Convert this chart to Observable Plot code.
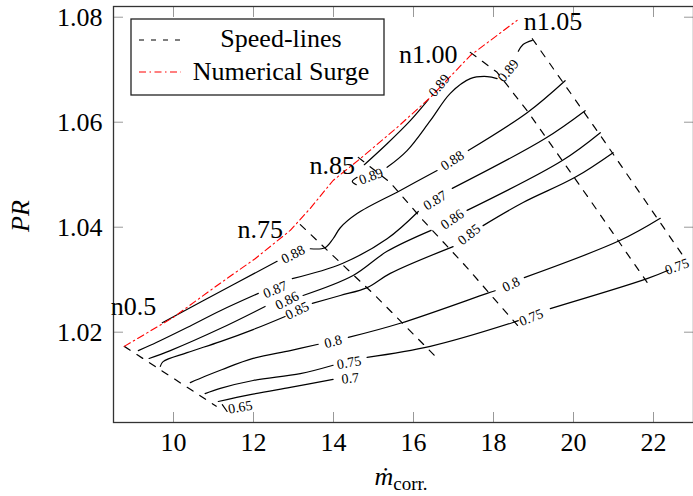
<!DOCTYPE html>
<html><head><meta charset="utf-8">
<script src="https://cdn.jsdelivr.net/npm/d3@7"></script>
<script src="https://cdn.jsdelivr.net/npm/@observablehq/plot@0.6"></script>
<style>
body{margin:0;background:#fff;}
#chart{width:693px;height:496px;}
</style></head><body><div id="chart"></div>
<script>
// ---- axis ticks ----
const xTicks = [10, 12, 14, 16, 18, 20, 22];
const yTicks = [1.02, 1.04, 1.06, 1.08];

// ---- speed lines (mass flow, pressure ratio) ----
const speedNames = ["n0.5", "n.75", "n.85", "n1.00", "n1.05"];
const speedX = [
  [8.77, 11.07],
  [13.17, 14.04, 15.04, 16.52],
  [14.62, 15.42, 16.24, 17.29, 18.67],
  [17.42, 18.09, 18.84, 20.42, 21.84],
  [18.97, 20.67, 22.77]
];
const speedPR = [
  [1.0173, 1.0059],
  [1.0405, 1.0342, 1.0270, 1.0156],
  [1.0533, 1.0485, 1.0413, 1.0327, 1.0207],
  [1.0733, 1.0695, 1.0622, 1.0451, 1.0295],
  [1.0759, 1.0575, 1.0342]
];
const speedLabelX = [9.0, 12.17, 13.97, 16.37, 19.49];
const speedLabelPR = [1.0232, 1.0380, 1.0502, 1.0712, 1.0775];

// ---- numerical surge line ----
const surgeX  = [8.77, 9.99, 11.09, 12.04, 12.92, 13.42, 13.99, 14.74, 15.59, 16.42, 17.42, 18.59];
const surgePR = [1.0173, 1.0228, 1.0289, 1.0340, 1.0394, 1.0436, 1.0489, 1.0535, 1.0590, 1.0647, 1.0727, 1.0794];

// ---- efficiency contour segments (broken at labels) ----
const contourLevel = ["0.65","0.7","0.75","0.75","0.75","0.8","0.8","0.8","0.85","0.85","0.85",
  "0.86","0.86","0.86","0.87","0.87","0.87","0.88","0.88","0.88","0.89","0.89","0.89","0.89"];
const contourX = [
  [11.22, 11.34],
  [11.12, 11.92, 12.92, 13.99],
  [10.79, 11.17, 11.99, 13.17, 13.99],
  [14.84, 16.42, 18.47, 18.62],
  [19.42, 21.84, 22.37],
  [10.42, 10.79, 11.22, 11.99, 12.92, 13.62],
  [14.37, 15.67, 17.84, 18.04],
  [18.77, 21.17, 22.17],
  [9.67, 9.74, 10.34, 11.17, 11.99, 12.79],
  [13.47, 14.17, 14.84, 15.42, 16.99],
  [17.74, 18.74, 20.04, 20.99],
  [9.39, 9.92, 11.17, 12.29],
  [13.24, 14.49, 15.34, 16.44],
  [17.34, 19.72, 20.67],
  [9.12, 9.42, 10.34, 11.17, 12.12],
  [12.97, 14.22, 15.34, 16.12],
  [16.97, 19.29, 20.29],
  [9.72, 10.74, 12.59],
  [13.42, 13.79, 13.99, 14.17, 14.59, 15.67, 16.59],
  [17.37, 18.84, 19.79],
  [14.77, 15.34, 15.92, 16.37],
  [14.59, 14.47, 14.57],
  [15.34, 15.84, 16.42, 16.92, 17.42, 17.84, 18.09],
  [18.62, 18.74, 18.97]
];
const contourPR = [
  [1.0062, 1.0049],
  [1.0068, 1.0081, 1.0095, 1.0110],
  [1.0083, 1.0093, 1.0108, 1.0121, 1.0137],
  [1.0152, 1.0173, 1.0218, 1.0222],
  [1.0245, 1.0302, 1.0318],
  [1.0104, 1.0116, 1.0129, 1.0150, 1.0165, 1.0177],
  [1.0190, 1.0217, 1.0274, 1.0279],
  [1.0304, 1.0375, 1.0417],
  [1.0135, 1.0144, 1.0161, 1.0182, 1.0205, 1.0230],
  [1.0255, 1.0270, 1.0285, 1.0312, 1.0363],
  [1.0403, 1.0447, 1.0495, 1.0542],
  [1.0150, 1.0165, 1.0207, 1.0249],
  [1.0270, 1.0308, 1.0354, 1.0394],
  [1.0432, 1.0527, 1.0580],
  [1.0165, 1.0175, 1.0209, 1.0241, 1.0274],
  [1.0302, 1.0331, 1.0378, 1.0430],
  [1.0474, 1.0569, 1.0622],
  [1.0218, 1.0260, 1.0335],
  [1.0359, 1.0361, 1.0378, 1.0399, 1.0426, 1.0470, 1.0508],
  [1.0546, 1.0618, 1.0679],
  [1.0519, 1.0559, 1.0603, 1.0643],
  [1.0495, 1.0487, 1.0481],
  [1.0514, 1.0546, 1.0603, 1.0655, 1.0683, 1.0687, 1.0683],
  [1.0735, 1.0748, 1.0756]
];

// ---- contour labels ----
const labelText = ["0.65","0.7","0.75","0.75","0.75","0.8","0.8","0.85","0.85","0.86","0.86",
  "0.87","0.87","0.88","0.88","0.89","0.89","0.89"];
const labelX  = [11.67, 14.42, 14.39, 18.94, 22.59, 13.99, 18.44, 13.09, 17.39, 12.84, 16.97,
  12.54, 16.54, 12.99, 16.97, 16.64, 14.94, 18.37];
const labelPR = [1.0057, 1.0112, 1.0142, 1.0228, 1.0325, 1.0182, 1.0291, 1.0241, 1.0386, 1.0260, 1.0415,
  1.0281, 1.0451, 1.0348, 1.0527, 1.0670, 1.0497, 1.0698];
const labelAngle = [-10, -6, -10, -22, -20, -15, -25, -25, -38, -27, -35, -22, -32, -27, -33, -50, -20, -50];

const legendLabels = ["Speed-lines", "Numerical Surge"];

// ---- build tables ----
const speedRows = speedNames.flatMap((n, i) => speedX[i].map((x, j) => ({name: n, x, y: speedPR[i][j]})));
const surgeRows = surgeX.map((x, i) => ({x, y: surgePR[i]}));
const contourRows = contourLevel.flatMap((lv, i) => contourX[i].map((x, j) => ({seg: i, level: lv, x, y: contourPR[i][j]})));
const labelRows = labelText.map((t, i) => ({text: t, x: labelX[i], y: labelPR[i], a: labelAngle[i]}));
const speedLabelRows = speedNames.map((n, i) => ({text: n, x: speedLabelX[i], y: speedLabelPR[i]}));

const serif = "'Liberation Serif', 'Times New Roman', serif";

const plot = Plot.plot({
  width: 693, height: 496,
  marginLeft: 113, marginRight: 0, marginTop: 6, marginBottom: 74,
  x: {domain: [8.5, 23]},
  y: {domain: [1.0028, 1.08204]},
  style: {fontFamily: serif, fontSize: "26px", background: "white", color: "black"},
  marks: [
    Plot.axisX({ticks: xTicks, tickSize: -10, tickPadding: 20, stroke: "#999", fill: "black", label: null, tickFormat: d => String(d)}),
    Plot.axisX({anchor: "top", ticks: xTicks, tickSize: -10, stroke: "#999", label: null, tickFormat: () => ""}),
    Plot.axisY({ticks: yTicks, tickSize: -10, tickPadding: 21, stroke: "#999", fill: "black", label: null, tickFormat: d3.format(".2f")}),
    Plot.axisY({anchor: "right", ticks: yTicks, tickSize: -10, stroke: "#999", label: null, tickFormat: () => ""}),
    Plot.frame({stroke: "#333", strokeWidth: 1.3}),
    Plot.line(contourRows, {x: "x", y: "y", z: "seg", stroke: "black", strokeWidth: 1.2, curve: "catmull-rom"}),
    Plot.line(speedRows, {x: "x", y: "y", z: "name", stroke: "black", strokeWidth: 1.2, strokeDasharray: "7,8"}),
    Plot.line(surgeRows, {x: "x", y: "y", stroke: "red", strokeWidth: 1.1, strokeDasharray: "7,3.5,1.5,3.5"}),
    Plot.text(labelRows, {x: "x", y: "y", text: "text", rotate: "a", fontSize: 14, fill: "black"}),
    Plot.text(speedLabelRows, {x: "x", y: "y", text: "text", fontSize: 26, lineAnchor: "bottom", fill: "black"})
  ]
});

const svg = d3.select(plot);
// legend
const lg = svg.append("g");
lg.append("rect").attr("x", 131).attr("y", 19).attr("width", 253).attr("height", 76)
  .attr("fill", "white").attr("stroke", "#222").attr("stroke-width", 1.3);
lg.append("line").attr("x1", 139).attr("x2", 181).attr("y1", 40).attr("y2", 40)
  .attr("stroke", "black").attr("stroke-width", 1.2).attr("stroke-dasharray", "5,7");
lg.append("line").attr("x1", 139).attr("x2", 181).attr("y1", 72).attr("y2", 72)
  .attr("stroke", "red").attr("stroke-width", 1.1).attr("stroke-dasharray", "7,3.5,1.5,3.5");
[47, 80].forEach((yy, i) => {
  lg.append("text").attr("x", 281).attr("y", yy).attr("text-anchor", "middle")
    .attr("font-family", serif).attr("font-size", 26).attr("fill", "black").text(legendLabels[i]);
});
// axis titles
svg.append("text").attr("transform", "translate(29,216) rotate(-90)").attr("text-anchor", "middle")
  .attr("font-family", serif).attr("font-size", 26).attr("font-style", "italic").attr("fill", "black").text("PR");
const xt = svg.append("text").attr("x", 401).attr("y", 485).attr("text-anchor", "middle")
  .attr("font-family", serif).attr("font-size", 26).attr("fill", "black");
xt.append("tspan").attr("font-style", "italic").text("ṁ");
xt.append("tspan").attr("font-size", 19).attr("dy", 5).text("corr.");

document.getElementById("chart").appendChild(plot);
</script></body></html>
